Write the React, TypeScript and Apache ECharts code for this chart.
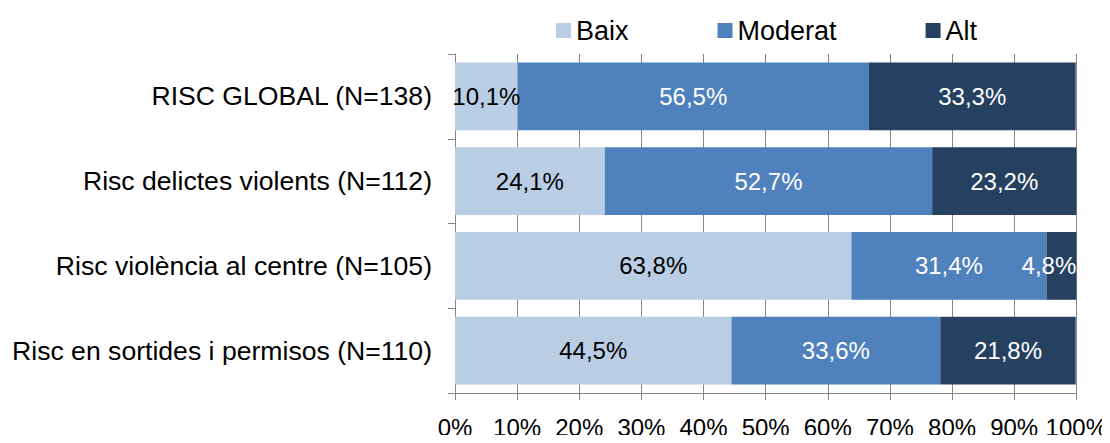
import React, { useEffect, useRef } from "react";
import * as echarts from "echarts";

const categories = [
  "RISC GLOBAL (N=138)",
  "Risc delictes violents (N=112)",
  "Risc violència al centre (N=105)",
  "Risc en sortides i permisos (N=110)",
];
const seriesNames = ["Baix", "Moderat", "Alt"];
const baix = [10.1, 24.1, 63.8, 44.5];
const moderat = [56.5, 52.7, 31.4, 33.6];
const alt = [33.3, 23.2, 4.8, 21.8];
const xTicks = [0, 10, 20, 30, 40, 50, 60, 70, 80, 90, 100];

const FONT = "'Liberation Sans', Arial, sans-serif";
const colors = ["#B9CDE5", "#4F81BD", "#254061"];
const labelColors = ["#000000", "#ffffff", "#ffffff"];

const fmt = (v: number) => `${v.toFixed(1).replace(".", ",")}%`;

export default function App() {
  const ref = useRef<HTMLDivElement>(null);
  useEffect(() => {
    if (!ref.current) return;
    const chart = echarts.init(ref.current, undefined, { renderer: "svg" });
    const datasets = [baix, moderat, alt];
    chart.setOption({
      animation: false,
      color: colors,
      textStyle: { fontFamily: FONT },
      legend: {
        data: seriesNames,
        left: 551,
        top: 12,
        itemWidth: 15,
        itemHeight: 15,
        itemGap: 89,
        icon: "rect",
        textStyle: { fontSize: 27, color: "#000", fontFamily: FONT, padding: [0, 0, 0, 0] },
      },
      grid: { left: 455, right: 33, top: 54, bottom: 50, containLabel: false },
      xAxis: {
        type: "value",
        min: xTicks[0],
        max: xTicks[xTicks.length - 1],
        interval: 10,
        axisLine: { show: true, lineStyle: { color: "#868686", width: 1 } },
        axisTick: { show: true, length: 7, lineStyle: { color: "#868686" } },
        splitLine: { show: true, lineStyle: { color: "#868686", width: 1 } },
        axisLabel: {
          formatter: (v: number) => `${v}%`,
          fontSize: 24,
          color: "#000",
          margin: 22,
          fontFamily: FONT,
        },
      },
      yAxis: {
        type: "category",
        inverse: true,
        data: categories,
        axisLine: { show: true, lineStyle: { color: "#868686", width: 1 } },
        axisTick: { show: true, length: 7, lineStyle: { color: "#868686" } },
        axisLabel: { fontSize: 26.6, color: "#000", margin: 23, fontFamily: FONT },
      },
      series: seriesNames.map((name, si) => ({
        name,
        type: "bar",
        stack: "total",
        barCategoryGap: "20%",
        data: datasets[si].map((v) =>
          si === 2 && v < 6
            ? { value: v, label: { position: "insideRight", distance: 0 } }
            : v
        ),
        itemStyle: { color: colors[si] },
        label: {
          show: true,
          position: "inside",
          formatter: (p: any) => fmt(p.value),
          fontSize: 24,
          color: labelColors[si],
          fontFamily: FONT,
        },
      })),
    });
    return () => chart.dispose();
  }, []);
  return <div ref={ref} style={{ width: 1110, height: 443, margin: -8 }} />;
}
